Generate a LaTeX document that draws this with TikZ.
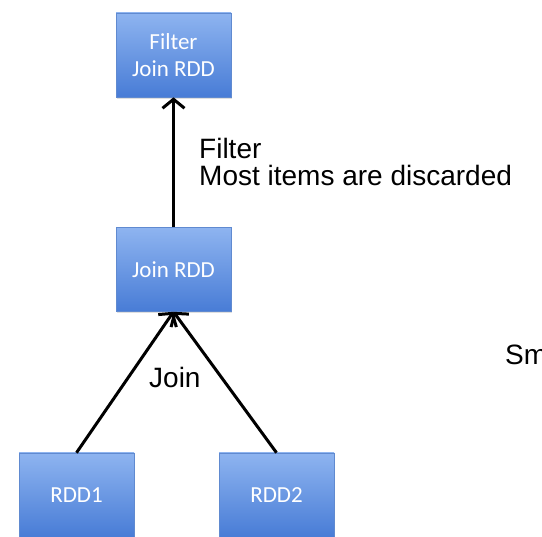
\documentclass[tikz,border=0pt]{standalone}
\usepackage{fontspec}
\setmainfont{Liberation Sans}
\newfontfamily\boxfont{Carlito}
\usetikzlibrary{arrows.meta,shadows}
\definecolor{rddtop}{RGB}{142,180,240}
\definecolor{rddbot}{RGB}{72,124,214}
\definecolor{rddedge}{RGB}{96,138,208}
\tikzset{
  rddbox/.style={rectangle, minimum width=115pt, minimum height=84pt,
    top color=rddtop, bottom color=rddbot, draw=rddedge, line width=0.6pt,
    drop shadow={shadow xshift=1pt, shadow yshift=-2pt, opacity=0.25},
    text=white, align=center, font=\boxfont\fontsize{23}{27}\selectfont, inner sep=0pt},
  flow/.style={line width=3pt, -{Straight Barb[length=9pt,width=22pt,line width=3pt]}},
  note/.style={anchor=base west, inner sep=0pt, font=\fontsize{28}{27}\selectfont}
}
\begin{document}
\begin{tikzpicture}[x=1pt,y=-1pt]
  \useasboundingbox (0,0) rectangle (542,537);
  % boxes
  \node[rddbox] (filt) at (173.5,55) {Filter\\Join RDD};
  \node[rddbox] (join) at (173.5,269.5) {Join RDD};
  \node[rddbox] (rdda) at (76.5,495) {RDD1};
  \node[rddbox] (rddb) at (276.5,495) {RDD2};
  % connectors
  \draw[flow] (join.north) -- (filt.south);
  \draw[flow] (rdda.north) -- (join.south);
  \draw[flow] (rddb.north) -- (join.south);
  % labels
  \node[note] (fl1) at (199,159) {Filter};
  \node[note] (fl2) at (199,186) {Most items are discarded};
  \node[note] (jl) at (149,388) {Join};
  \node[note] (sm) at (505,365) {Sm};
\end{tikzpicture}
\end{document}
